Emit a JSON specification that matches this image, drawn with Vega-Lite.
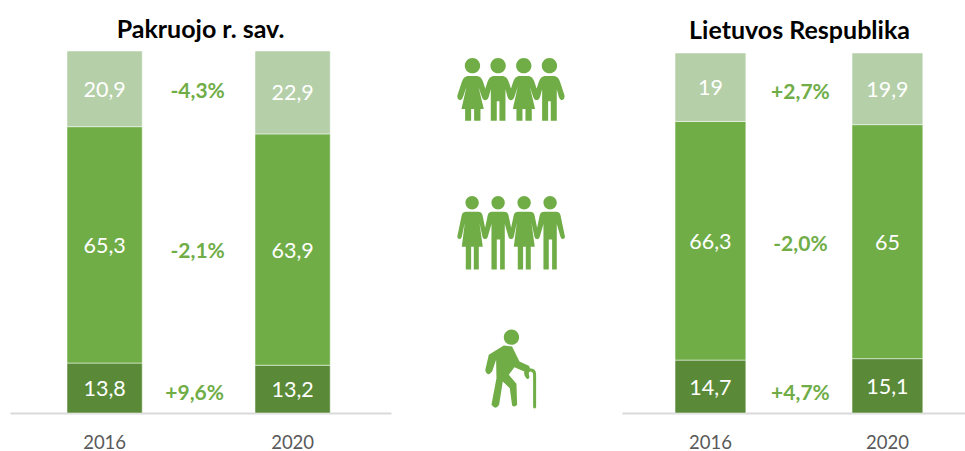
{"$schema":"https://vega.github.io/schema/vega-lite/v6.json","padding":{"left":10,"top":17,"right":0,"bottom":0},"background":"white","spacing":0,"bounds":"flush","datasets":{"pakruojis":[{"metai":"2016","grupe":"65+","ord":1,"reiksme":13.8,"tekstas":"13,8"},{"metai":"2016","grupe":"15-64","ord":2,"reiksme":65.3,"tekstas":"65,3"},{"metai":"2016","grupe":"0-14","ord":3,"reiksme":20.9,"tekstas":"20,9"},{"metai":"2020","grupe":"65+","ord":1,"reiksme":13.2,"tekstas":"13,2"},{"metai":"2020","grupe":"15-64","ord":2,"reiksme":63.9,"tekstas":"63,9"},{"metai":"2020","grupe":"0-14","ord":3,"reiksme":22.9,"tekstas":"22,9"}],"lietuva":[{"metai":"2016","grupe":"65+","ord":1,"reiksme":14.7,"tekstas":"14,7"},{"metai":"2016","grupe":"15-64","ord":2,"reiksme":66.3,"tekstas":"66,3"},{"metai":"2016","grupe":"0-14","ord":3,"reiksme":19,"tekstas":"19"},{"metai":"2020","grupe":"65+","ord":1,"reiksme":15.1,"tekstas":"15,1"},{"metai":"2020","grupe":"15-64","ord":2,"reiksme":65,"tekstas":"65"},{"metai":"2020","grupe":"0-14","ord":3,"reiksme":19.9,"tekstas":"19,9"}],"pokytisP":[{"metai":"2016","tekstas":"-4,3%","poz":89},{"metai":"2016","tekstas":"-2,1%","poz":45}],"pokytisP2":[{"metai":"2016","tekstas":"+9,6%","poz":5.8}],"pokytisL":[{"metai":"2016","tekstas":"+2,7%","poz":89.2},{"metai":"2016","tekstas":"-2,0%","poz":47},{"metai":"2016","tekstas":"+4,7%","poz":5.8}]},"hconcat":[{"width":381,"height":362,"title":{"text":"Pakruojo r. sav.","font":"Lato","fontWeight":"bold","fontSize":25,"color":"#000000","anchor":"middle","offset":8,"dx":0},"layer":[{"data":{"name":"pakruojis"},"mark":{"type":"bar","stroke":"#ffffff","strokeWidth":0.5},"encoding":{"x":{"field":"metai","type":"nominal","scale":{"domain":["2016","2020"],"paddingInner":0.6,"paddingOuter":0.3133,"align":0.484},"axis":{"title":null,"labelAngle":0,"ticks":false,"domainColor":"#d9d9d9","domainWidth":2,"labelFont":"Lato","labelFontSize":18.5,"labelColor":"#595959","labelPadding":20,"grid":false}},"y":{"field":"reiksme","type":"quantitative","stack":"zero","scale":{"domain":[0,100],"nice":false},"axis":null},"order":{"field":"ord","type":"quantitative"},"color":{"field":"grupe","type":"nominal","scale":{"domain":["65+","15-64","0-14"],"range":["#5A8A38","#70AD47","#B5CFA8"]},"legend":null}}},{"data":{"name":"pakruojis"},"mark":{"type":"text","font":"Lato","fontSize":21.5,"color":"#ffffff","dy":2},"encoding":{"x":{"field":"metai","type":"nominal"},"y":{"field":"reiksme","type":"quantitative","stack":"zero","bandPosition":0.5},"order":{"field":"ord","type":"quantitative"},"detail":{"field":"grupe"},"text":{"field":"tekstas","type":"nominal"}}},{"data":{"name":"pokytisP"},"mark":{"type":"text","font":"Lato","fontWeight":"bold","fontSize":21,"color":"#70AD47","dx":93,"dy":1.5},"encoding":{"x":{"field":"metai","type":"nominal"},"y":{"field":"poz","type":"quantitative"},"text":{"field":"tekstas","type":"nominal"}}},{"data":{"name":"pokytisP2"},"mark":{"type":"text","font":"Lato","fontWeight":"bold","fontSize":21,"color":"#70AD47","dx":90,"dy":1.5},"encoding":{"x":{"field":"metai","type":"nominal"},"y":{"field":"poz","type":"quantitative"},"text":{"field":"tekstas","type":"nominal"}}}]},{"width":231,"height":362,"layer":[{"data":{"values":[{"grupe":"0-14","vieta":0.52,"poz":89.4}]},"mark":{"type":"point","filled":true,"opacity":1,"color":"#70AD47","size":0.4444,"shape":"M-131 -40 h30 q12 2 17 18 l13 40 q2 12 -7 14 q-6 2 -10 -10 l-10 -30 l16 67 h-10 v35 h-19 v-35 h-9 v35 h-18 v-35 h-11 l15 -67 l-10 30 q-4 12 -10 10 q-9 -2 -7 -14 l13 -40 q5 -16 17 -18 z M-139 -71 a23 23 0 1 0 46 0 a23 23 0 1 0 -46 0 z M-54 -40 h30 q12 2 17 18 l13 40 q2 12 -7 14 q-6 2 -10 -10 l-6 -22 v94 h-18 v-58 h-8 v58 h-18 v-94 l-6 22 q-4 12 -10 10 q-9 -2 -7 -14 l13 -40 q5 -16 17 -18 z M-62 -71 a23 23 0 1 0 46 0 a23 23 0 1 0 -46 0 z M23 -40 h30 q12 2 17 18 l13 40 q2 12 -7 14 q-6 2 -10 -10 l-10 -30 l16 67 h-10 v35 h-19 v-35 h-9 v35 h-18 v-35 h-11 l15 -67 l-10 30 q-4 12 -10 10 q-9 -2 -7 -14 l13 -40 q5 -16 17 -18 z M15 -71 a23 23 0 1 0 46 0 a23 23 0 1 0 -46 0 z M100 -40 h30 q12 2 17 18 l13 40 q2 12 -7 14 q-6 2 -10 -10 l-6 -22 v94 h-18 v-58 h-8 v58 h-18 v-94 l-6 22 q-4 12 -10 10 q-9 -2 -7 -14 l13 -40 q5 -16 17 -18 z M92 -71 a23 23 0 1 0 46 0 a23 23 0 1 0 -46 0 z"},"encoding":{"x":{"field":"vieta","type":"quantitative","scale":{"domain":[0,1]},"axis":null},"y":{"field":"poz","type":"quantitative","scale":{"domain":[0,100],"nice":false},"axis":null}}},{"data":{"values":[{"grupe":"15-64","vieta":0.52,"poz":49.8}]},"mark":{"type":"point","filled":true,"opacity":1,"color":"#70AD47","size":0.4444,"shape":"M-135 -63 h36 q10 0 13 10 l13 62 q2 8 -5 10 q-6 1 -8 -7 l-9 -42 l10 72 h-12 v68 h-15 v-68 h-8 v68 h-16 v-68 h-12 l9 -72 l-9 42 q-2 8 -8 7 q-7 -2 -5 -10 l13 -62 q3 -10 13 -10 z M-137 -90 a20 20 0 1 0 40 0 a20 20 0 1 0 -40 0 z M-57 -63 h36 q10 0 13 10 l13 62 q2 8 -5 10 q-6 1 -8 -7 l-11 -38 v136 h-14 v-90 h-10 v90 h-16 v-136 l-11 38 q-2 8 -8 7 q-7 -2 -5 -10 l13 -62 q3 -10 13 -10 z M-59 -90 a20 20 0 1 0 40 0 a20 20 0 1 0 -40 0 z M21 -63 h36 q10 0 13 10 l13 62 q2 8 -5 10 q-6 1 -8 -7 l-9 -42 l10 72 h-12 v68 h-15 v-68 h-8 v68 h-16 v-68 h-12 l9 -72 l-9 42 q-2 8 -8 7 q-7 -2 -5 -10 l13 -62 q3 -10 13 -10 z M19 -90 a20 20 0 1 0 40 0 a20 20 0 1 0 -40 0 z M99 -63 h36 q10 0 13 10 l13 62 q2 8 -5 10 q-6 1 -8 -7 l-11 -38 v136 h-14 v-90 h-10 v90 h-16 v-136 l-11 38 q-2 8 -8 7 q-7 -2 -5 -10 l13 -62 q3 -10 13 -10 z M97 -90 a20 20 0 1 0 40 0 a20 20 0 1 0 -40 0 z"},"encoding":{"x":{"field":"vieta","type":"quantitative","scale":{"domain":[0,1]},"axis":null},"y":{"field":"poz","type":"quantitative","scale":{"domain":[0,100],"nice":false},"axis":null}}},{"data":{"values":[{"grupe":"65+","vieta":0.52,"poz":12.1}]},"mark":{"type":"point","filled":true,"opacity":1,"color":"#70AD47","size":0.4444,"shape":"M-67 -43 L-22 -71 L3 -68 L25 -23 L53 -10 Q58 -4 56 2 Q52 10 46 10 L10 -6 L-7 17 L16 44 L18 107 Q10 116 3 109 L-4 57 L-25 37 L-36 107 Q-46 124 -59 107 L-44 27 L-45 -28 L-57 7 Q-66 18 -72 14 Q-79 8 -77 0 Z M-22 -96 a23 23 0 1 0 46 0 a23 23 0 1 0 -46 0 z M56 -3 Q75 -3 75 16 L75 114 Q70.5 122 66 114 L66 18 Q66 7 58 7 Q53 7 53 12 Q53 18 55 22 Q54 32 47 29 Q38 20 39 10 Q40 -2 56 -3 Z"},"encoding":{"x":{"field":"vieta","type":"quantitative","scale":{"domain":[0,1]},"axis":null},"y":{"field":"poz","type":"quantitative","scale":{"domain":[0,100],"nice":false},"axis":null}}}]},{"width":343,"height":362,"title":{"text":"Lietuvos Respublika","font":"Lato","fontWeight":"bold","fontSize":25,"color":"#000000","anchor":"middle","offset":7,"dx":6},"layer":[{"data":{"name":"lietuva"},"mark":{"type":"bar","stroke":"#ffffff","strokeWidth":0.5},"encoding":{"x":{"field":"metai","type":"nominal","scale":{"domain":["2016","2020"],"paddingInner":0.6,"paddingOuter":0.269,"align":0.557},"axis":{"title":null,"labelAngle":0,"ticks":false,"domainColor":"#d9d9d9","domainWidth":2,"labelFont":"Lato","labelFontSize":18.5,"labelColor":"#595959","labelPadding":20,"grid":false}},"y":{"field":"reiksme","type":"quantitative","stack":"zero","scale":{"domain":[0,100.56],"nice":false},"axis":null},"order":{"field":"ord","type":"quantitative"},"color":{"field":"grupe","type":"nominal","scale":{"domain":["65+","15-64","0-14"],"range":["#5A8A38","#70AD47","#B5CFA8"]},"legend":null}}},{"data":{"name":"lietuva"},"mark":{"type":"text","font":"Lato","fontSize":21.5,"color":"#ffffff","dy":2},"encoding":{"x":{"field":"metai","type":"nominal"},"y":{"field":"reiksme","type":"quantitative","stack":"zero","bandPosition":0.5},"order":{"field":"ord","type":"quantitative"},"detail":{"field":"grupe"},"text":{"field":"tekstas","type":"nominal"}}},{"data":{"name":"pokytisL"},"mark":{"type":"text","font":"Lato","fontWeight":"bold","fontSize":21,"color":"#70AD47","dx":90,"dy":1.5},"encoding":{"x":{"field":"metai","type":"nominal"},"y":{"field":"poz","type":"quantitative"},"text":{"field":"tekstas","type":"nominal"}}}]}],"resolve":{"scale":{"x":"independent","y":"independent","color":"independent"}},"config":{"view":{"stroke":null}}}
